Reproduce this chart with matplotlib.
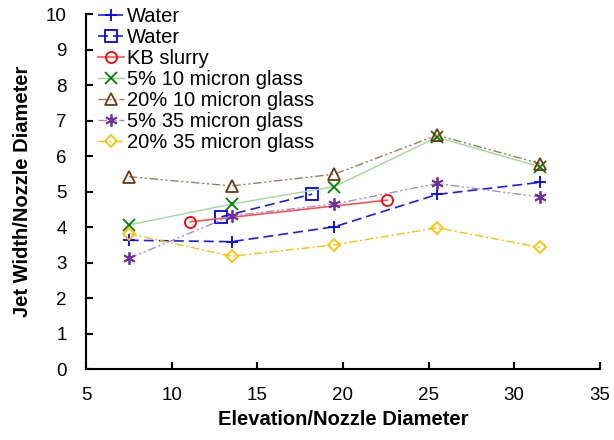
import numpy as np
import matplotlib
matplotlib.use("Agg")
import matplotlib.pyplot as plt

plt.rcParams['font.family'] = ['Liberation Sans', 'DejaVu Sans']

# Data
x_main = [7.5, 13.5, 19.5, 25.5, 31.5]
water_plus = [3.63, 3.59, 4.01, 4.92, 5.26]
x_water_sq = [12.9, 18.2]
water_sq = [4.29, 4.93]
x_kb = [11.1, 22.6]
kb_slurry = [4.15, 4.76]
glass5_10 = [4.06, 4.65, 5.14, 6.53, 5.70]
glass20_10 = [5.42, 5.16, 5.49, 6.59, 5.79]
glass5_35 = [3.12, 4.32, 4.65, 5.23, 4.85]
glass20_35 = [3.82, 3.18, 3.50, 3.98, 3.43]

fig = plt.figure(figsize=(6.14, 4.4), dpi=100)
ax = fig.add_axes([0.140, 0.161, 0.837, 0.807])

ms = 8
mew = 1.3
dash2dot = (0, (6, 2, 1.5, 2, 1.5, 2))

ax.plot(x_main, water_plus, color='#1a1aff', linestyle=(0, (6, 3)), lw=1.2,
        marker='+', ms=ms + 1, mew=mew, mec='#0000ff', label='Water')
ax.plot(x_water_sq, water_sq, color='#1a1aff', linestyle=(0, (6, 3)), lw=1.2,
        marker='s', ms=ms, mew=mew, mfc='none', mec='#0000ff', label='Water')
ax.plot(x_kb, kb_slurry, color='#ff5050', linestyle='-', lw=1.2,
        marker='o', ms=ms, mew=mew, mfc='none', mec='#ff0000', label='KB slurry')
ax.plot(x_main, glass5_10, color='#9fd89f', linestyle='-', lw=1.0,
        marker='x', ms=ms, mew=mew, mec='#008000', label='5% 10 micron glass')
ax.plot(x_main, glass20_10, color='#a0785a', linestyle=dash2dot, lw=1.0,
        marker='^', ms=ms, mew=mew, mfc='none', mec='#6b3a10',
        label='20% 10 micron glass')
ax.plot(x_main, glass5_35, color='#a88bc8', linestyle=dash2dot, lw=1.0,
        marker=(6, 2, 0), ms=ms + 1, mew=mew, mec='#7030a0',
        label='5% 35 micron glass')
ax.plot(x_main, glass20_35, color='#ffc000', linestyle=(0, (6, 2, 1.5, 2)), lw=1.0,
        marker='D', ms=ms - 1.5, mew=mew, mfc='none', mec='#ffc000',
        label='20% 35 micron glass')

ax.set_xlim(5, 35)
ax.set_ylim(0, 10)
ax.set_xticks(np.arange(5, 36, 5))
ax.set_yticks(np.arange(0, 11, 1))
ax.spines['top'].set_visible(False)
ax.spines['right'].set_visible(False)
for s in ['left', 'bottom']:
    ax.spines[s].set_linewidth(1.5)
ax.tick_params(direction='in', length=5, width=1.5, labelsize=13.5)
ax.tick_params(axis='x', pad=13)
ax.tick_params(axis='y', pad=14)
ax.set_xlabel('Elevation/Nozzle Diameter', fontsize=14.5, fontweight='bold',
              labelpad=4)
ax.set_ylabel('Jet Width/Nozzle Diameter', fontsize=14.5, fontweight='bold',
              labelpad=10)

ax.legend(loc='upper left', bbox_to_anchor=(0.0, 1.055), frameon=False,
          fontsize=14.5, handlelength=1.3, handletextpad=0.15,
          labelspacing=0.1, borderaxespad=0.2)

fig.savefig('out.png', dpi=100)
